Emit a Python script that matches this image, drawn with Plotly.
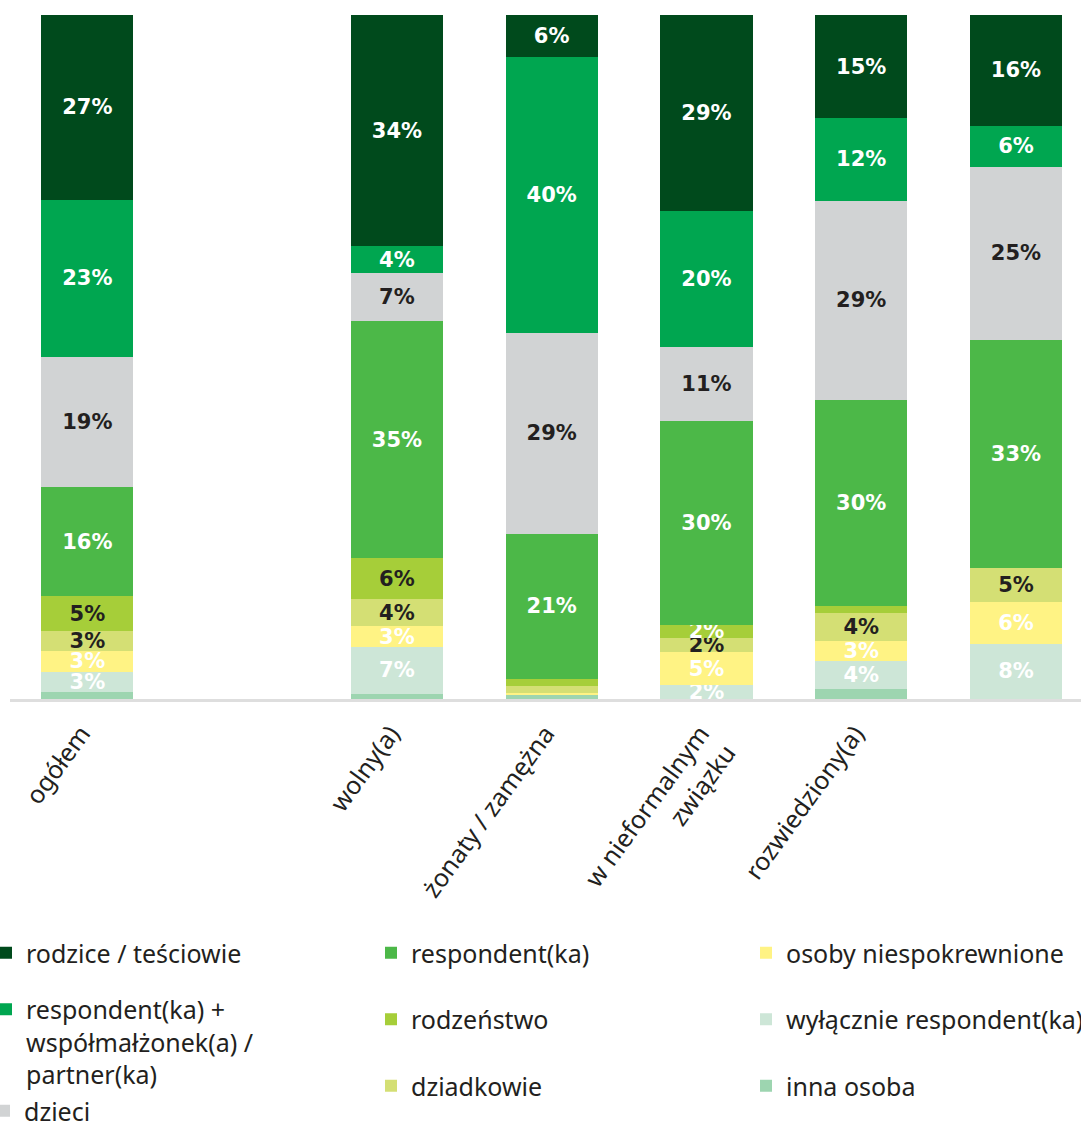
import plotly.graph_objects as go

# Household composition by marital status (shares of respondents, %)
categories = ["ogółem", "wolny(a)", "żonaty / zamężna", "w nieformalnym<br>związku", "rozwiedziony(a)", ""]

# series listed bottom -> top of each stack
inna_osoba = [1, 0.7, 0.6, 0, 1.5, 0]
wylacznie_respondent = [3, 7, 0, 2, 4, 8]
osoby_niespokrewnione = [3, 3, 0.3, 5, 3, 6]
dziadkowie = [3, 4, 1, 2, 4, 5]
rodzenstwo = [5, 6, 1, 2, 1, 0]
respondent = [16, 35, 21, 30, 30, 33]
dzieci = [19, 7, 29, 11, 29, 25]
respondent_partner = [23, 4, 40, 20, 12, 6]
rodzice_tesciowie = [27, 34, 6, 29, 15, 16]

series = [
    ("inna osoba", inna_osoba, "#9dd5b0", "white", "legend3"),
    ("wyłącznie respondent(ka)", wylacznie_respondent, "#cde6d7", "white", "legend3"),
    ("osoby niespokrewnione", osoby_niespokrewnione, "#fff384", "white", "legend3"),
    ("dziadkowie", dziadkowie, "#d4df74", "#231f20", "legend2"),
    ("rodzeństwo", rodzenstwo, "#a6ce39", "#231f20", "legend2"),
    ("respondent(ka)", respondent, "#4cb848", "white", "legend2"),
    ("dzieci", dzieci, "#d1d3d4", "#231f20", "legend4"),
    ("respondent(ka) +<br>współmałżonek(a) /<br>partner(ka)", respondent_partner, "#00a650", "white", "legend"),
    ("rodzice / teściowie", rodzice_tesciowie, "#004a1c", "white", "legend"),
]

# slot positions on the category axis (one empty slot after "ogółem")
x_pos = [0, 2, 3, 4, 5, 6]

fig = go.Figure()
n = len(series)
for i, (name, vals, color, txtcolor, leg) in enumerate(series):
    labels = [f"{round(v)}%" if v >= 2 else "" for v in vals]
    tcol = [txtcolor] * len(vals)
    if name == "rodzeństwo":
        # small segment in the 4th stack: label sits over the green above it
        tcol[3] = "white"
    fig.add_trace(go.Bar(
        x=x_pos, y=vals, name=name,
        marker=dict(color=color, line=dict(width=0)),
        text=labels, textposition="inside", insidetextanchor="middle",
        textangle=0, constraintext="none", cliponaxis=False,
        textfont=dict(family="DejaVu Sans", size=21, color=tcol, weight="bold"),
        legend=leg, legendgroup=f"g{i}", legendrank=n - i,
        hoverinfo="skip",
    ))

# plot area in pixels (for placing the legend blocks)
W, H = 1081, 1122
ML, MT, MB = 10, 15, 423
PW, PH = W - ML, H - MT - MB
legend_font = dict(family="Noto Sans, Open Sans, sans-serif", size=25, color="#231f20")


def legend_box(px, py, gap):
    return dict(
        x=(px - ML) / PW, y=(H - MB - py) / PH, xref="paper", yref="paper",
        xanchor="left", yanchor="top", orientation="v",
        traceorder="grouped", tracegroupgap=gap,
        font=legend_font, valign="top", bgcolor="rgba(0,0,0,0)",
        borderwidth=0, itemclick=False, itemdoubleclick=False,
    )


fig.update_layout(
    width=W, height=H,
    margin=dict(l=ML, r=0, t=MT, b=MB, autoexpand=False),
    paper_bgcolor="white", plot_bgcolor="white",
    barmode="stack", barnorm="percent", bargap=0.405,
    uniformtext=dict(mode="show", minsize=21),
    showlegend=True,
    legend=legend_box(-14, 930, 21),
    legend4=legend_box(-16, 1088, 10),
    legend2=legend_box(371, 930, 31),
    legend3=legend_box(746, 930, 31),
    xaxis=dict(
        range=[-0.5, 6.42], tickvals=x_pos, ticktext=categories,
        tickangle=-54, showgrid=False, zeroline=False,
        showline=True, linecolor="#dedede", linewidth=3,
        ticks="outside", ticklen=7, tickcolor="rgba(0,0,0,0)",
        ticklabelshift=-6,
        tickfont=dict(family="Noto Sans, Open Sans, sans-serif", size=25, color="#231f20"),
    ),
    yaxis=dict(range=[0, 100.01], visible=False, fixedrange=True),
)

fig.write_html("out.html")
